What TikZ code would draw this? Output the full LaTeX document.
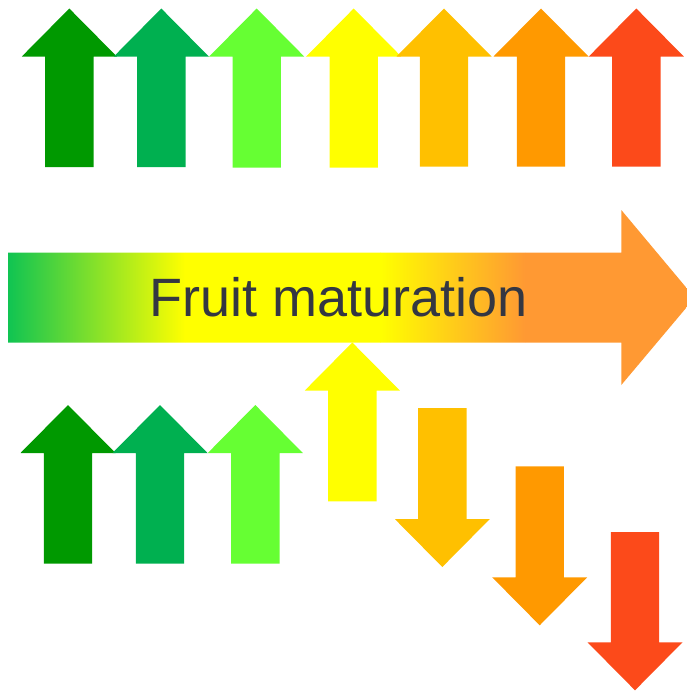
\documentclass[tikz,border=0pt]{standalone}
\usepackage{fontspec}
\setmainfont{Liberation Sans}
\definecolor{cA}{RGB}{0,153,0}
\definecolor{cB}{RGB}{0,176,80}
\definecolor{cC}{RGB}{102,255,51}
\definecolor{cD}{RGB}{255,255,0}
\definecolor{cE}{RGB}{255,192,0}
\definecolor{cF}{RGB}{255,153,0}
\definecolor{cG}{RGB}{252,74,26}
\definecolor{gL}{RGB}{16,196,82}
\definecolor{gO}{RGB}{255,153,51}
\definecolor{txt}{RGB}{52,55,66}
\newcommand\myup[4]{%
  \fill[#4] ({#1-47.5},{#2+48}) -- (#1,#2) -- ({#1+47.5},{#2+48}) -- ({#1+24.2},{#2+48}) -- ({#1+24.2},#3) -- ({#1-24.2},#3) -- ({#1-24.2},{#2+48}) -- cycle;}
\newcommand\mydown[4]{%
  \fill[#4] ({#1-24.2},#2) -- ({#1+24.2},#2) -- ({#1+24.2},{#3-48}) -- ({#1+47.5},{#3-48}) -- (#1,#3) -- ({#1-47.5},{#3-48}) -- ({#1-24.2},{#3-48}) -- cycle;}
\begin{document}
\begin{tikzpicture}[x=1pt,y=-1pt]
\useasboundingbox (0,0) rectangle (686,691);
% top row
\myup{69.3}{8.5}{167}{cA}
\myup{161.3}{8.5}{167}{cB}
\myup{256.7}{8.5}{167.5}{cC}
\myup{353.7}{8.5}{167.5}{cD}
\myup{444}{8.5}{166.5}{cE}
\myup{541}{8.5}{166.5}{cF}
\myup{636.3}{8.5}{166.7}{cG}
% big arrow
\begin{scope}
\clip (8,252.7) -- (621.3,252.7) -- (621.3,210) -- (694.7,297.7) -- (621.3,385) -- (621.3,342.7) -- (8,342.7) -- cycle;
\shade[left color=gL,right color=cD] (8,200) rectangle (185,400);
\fill[cD] (184.5,200) rectangle (381,400);
\shade[left color=cD,right color=gO] (380.5,200) rectangle (525,400);
\fill[gO] (524.5,200) rectangle (700,400);
\end{scope}
\node[anchor=base,text=txt,font=\fontsize{54}{60}\selectfont,inner sep=0pt] (title) at (339,316.7) {Fruit maturation};
% bottom row
\myup{68}{405}{563.7}{cA}
\myup{160}{405}{563.7}{cB}
\myup{255.3}{405}{563.7}{cC}
\myup{352.3}{342.5}{501.3}{cD}
\mydown{442.3}{408}{567}{cE}
\mydown{539.7}{466.3}{625.3}{cF}
\mydown{635}{532}{690.3}{cG}
\end{tikzpicture}
\end{document}
